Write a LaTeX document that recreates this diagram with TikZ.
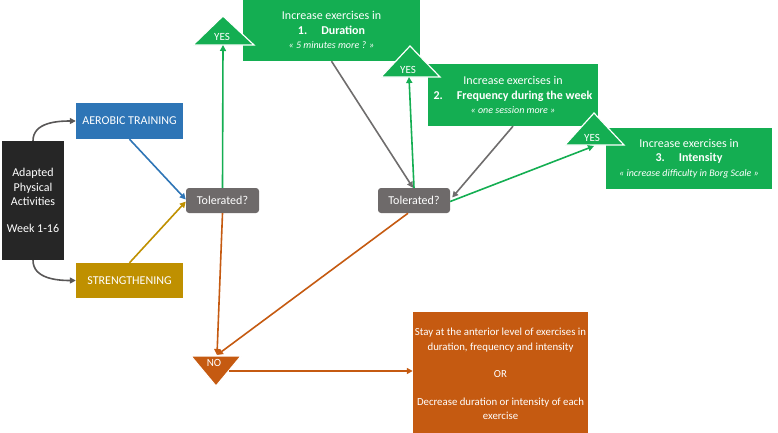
\documentclass[tikz,border=0pt]{standalone}
\usepackage{fontspec}
\setmainfont{Carlito}
\usetikzlibrary{arrows.meta,positioning}
\definecolor{aerblue}{HTML}{2E75B6}
\definecolor{strgold}{HTML}{BF9000}
\definecolor{tolgray}{HTML}{6E6A6A}
\definecolor{yesgreen}{HTML}{14AE52}
\definecolor{nobrown}{HTML}{C55A11}
\definecolor{linegray}{HTML}{6F6D6D}
\tikzset{
  box/.style={rectangle,text=white,align=center,inner sep=2pt},
  tolbox/.style={box,fill=tolgray,rounded corners=3pt,minimum width=73pt,minimum height=25pt},
  incbox/.style={box,fill=yesgreen,minimum height=62pt},
  tri/.style={draw=white,line width=1.2pt,line join=miter},
  trilabel/.style={text=white,font=\fontsize{11}{12}\selectfont},
  conn/.style={->,line width=1.6pt}
}
\begin{document}
\begin{tikzpicture}[x=1pt,y=-1pt,>={Triangle[length=6pt,width=6pt]},line join=round,font=\fontsize{12}{14.5}\selectfont]
		\useasboundingbox (0,0) rectangle (778,432);
		\node[box,fill=black!85,minimum width=62pt,minimum height=119pt] (act) at (33,200.5) {Adapted\\Physical\\Activities\\[12pt]Week 1-16};
		\node[box,fill=aerblue,minimum width=107pt,minimum height=36pt] (aer) at (129.5,121) {AEROBIC TRAINING};
		\node[box,fill=strgold,minimum width=107pt,minimum height=35pt] (str) at (129.5,280.5) {STRENGTHENING};
		\node[tolbox] (tol1) at (222.5,200.5) {Tolerated?};
		\node[tolbox,minimum width=72pt] (tol2) at (414,200.5) {Tolerated?};
		\node[incbox,minimum width=177pt] (inc1) at (331.5,30) {Increase exercises in\\\textbf{1.\hspace{14pt}Duration}\\{\fontsize{10}{12}\selectfont\itshape « 5 minutes more ? »}};
		\node[incbox,minimum width=170pt] (inc2) at (513,95) {Increase exercises in\\\textbf{2.\hspace{14pt}Frequency during the week}\\{\fontsize{10}{12}\selectfont\itshape « one session more »}};
		\node[incbox,minimum width=166pt,minimum height=61pt] (inc3) at (689,158.5) {Increase exercises in\\\textbf{3.\hspace{14pt}Intensity}\\{\fontsize{10}{12}\selectfont\itshape « increase difficulty in Borg Scale »}};
		\node[box,fill=nobrown,minimum width=175pt,minimum height=124pt,font=\fontsize{10.8}{14.5}\selectfont] (stay) at (500.5,374) {Stay at the anterior level of exercises in\\duration, frequency and intensity\\[13pt]OR\\[13pt]Decrease duration or intensity of each\\exercise};
		\fill[yesgreen,tri] (193,45)--(223,16)--(254,45)--cycle;
		\fill[yesgreen,tri] (381,77)--(410,46)--(440,77)--cycle;
		\fill[yesgreen,tri] (565,145)--(594,113)--(624,145)--cycle;
		\fill[nobrown,tri] (191,356)--(241,356)--(216,386)--cycle;
		\node[trilabel] (yes1) at (222,37) {YES};
		\node[trilabel] (yes2) at (408,70) {YES};
		\node[trilabel] (yes3) at (592,138) {YES};
		\node[trilabel] (no) at (214,363) {NO};
		\coordinate (yes1b) at (223,45);
		\coordinate (yes2b) at (409,77);
		\coordinate (yes3b) at (594,146);
		\coordinate (noa) at (217,355);
		\coordinate (nor) at (229,371);
		\draw[conn,linegray!80!black] (act.north) to[out=90,in=180] (aer.west);
		\draw[conn,linegray!80!black] (act.south) to[out=-90,in=180] (str.west);
		\draw[conn,aerblue] (aer.south) -- ([yshift=1pt]tol1.west);
		\draw[conn,strgold] (str.north) -- ([yshift=-1pt]tol1.west);
		\draw[conn,yesgreen] (tol1.north) -- (yes1b);
		\draw[conn,linegray] (inc1.south) -- ([xshift=-1pt]tol2.north);
		\draw[conn,yesgreen] (tol2.north) -- (yes2b);
		\draw[conn,linegray] (inc2.south) -- ([yshift=3pt,xshift=2pt]tol2.east);
		\draw[conn,yesgreen] ([yshift=-1pt]tol2.east) -- (yes3b);
		\draw[conn,nobrown] (tol1.south) -- (noa);
		\draw[conn,nobrown] ([xshift=-6pt]tol2.south) -- (noa);
		\draw[conn,nobrown] (nor) -- (stay.west |- nor);
		\end{tikzpicture}
\end{document}
